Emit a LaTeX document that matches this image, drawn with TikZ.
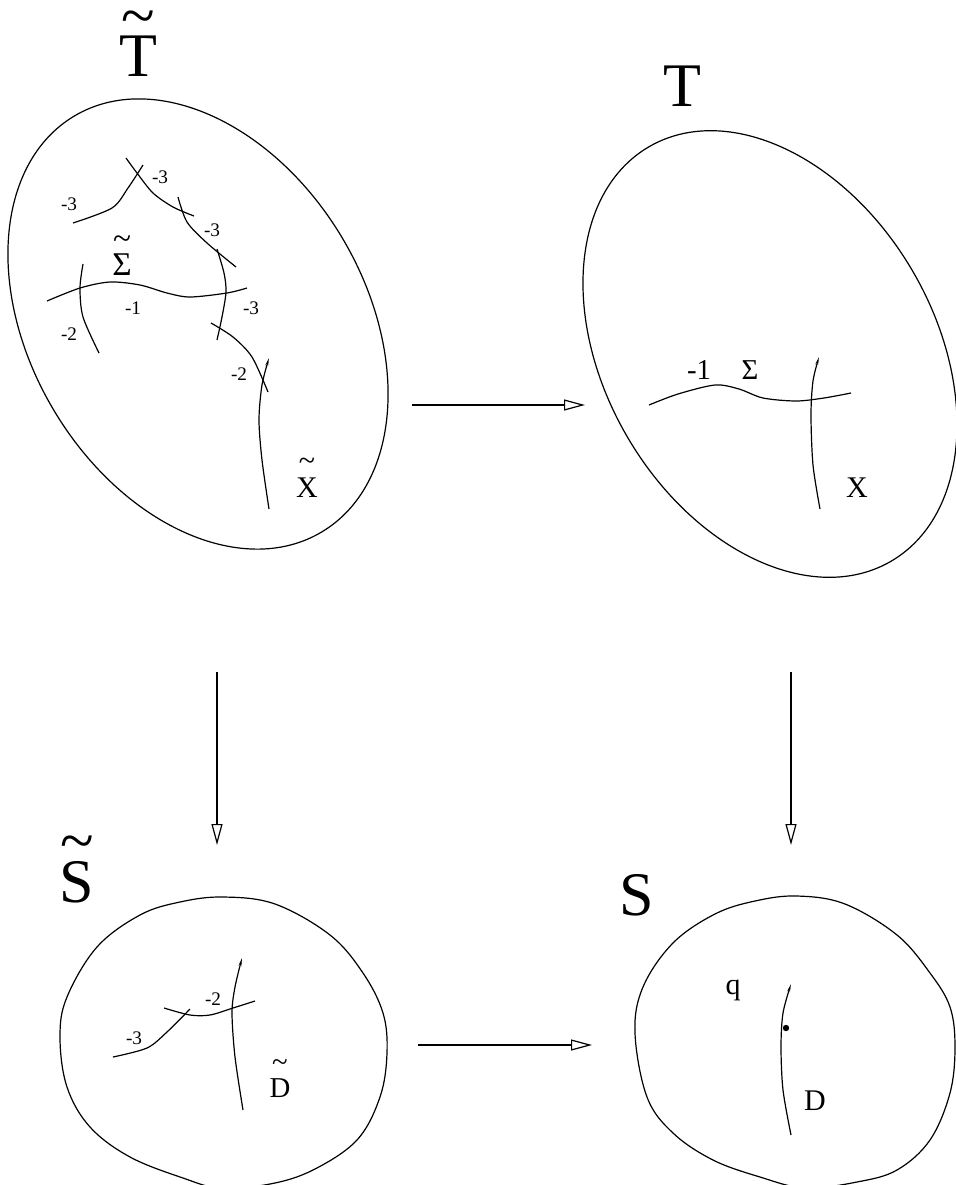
\documentclass[tikz,border=0pt]{standalone}
\usepackage{fontspec}
\setmainfont{Liberation Serif}
\usetikzlibrary{arrows.meta}

\newcommand{\tld}[2]{\ooalign{#2\cr\hfil\smash{\raisebox{#1}{\char"7E}}\hfil\cr}}

\tikzset{
  blob/.style={line width=0.6pt},
  curve/.style={line width=0.6pt},
  hook/.style={line width=0.6pt,-{Stealth[length=4pt,width=1.4pt]}},
  map/.style={line width=0.6pt,-{Triangle[open,length=10.5pt,width=5.5pt]}},
  num/.style={inner sep=0pt,font=\fontsize{9.6}{11}\selectfont},
  lbl/.style={inner sep=0pt,anchor=base,font=\fontsize{15}{18}\selectfont},
  big/.style={inner sep=0pt,anchor=base,font=\fontsize{31}{36}\selectfont}
}

\begin{document}
\begin{tikzpicture}[x=0.5pt,y=-0.5pt]
\useasboundingbox (0,0) rectangle (955,1185);

\draw[blob,rotate around={-59.3:(198,324)}] (198,324) ellipse [x radius=121pt,y radius=84pt];
\draw[curve] plot[smooth] coordinates {(73,223) (112,208) (128,188) (143,165)};
\draw[curve] plot[smooth] coordinates {(126,158) (137,173) (153,193) (173,207) (194,216)};
\draw[curve] plot[smooth] coordinates {(178,197) (187,222) (207,243) (236,267)};
\draw[curve] plot[smooth] coordinates {(217,249) (224,273) (226,292) (222,317) (217,340)};
\draw[curve] plot[smooth] coordinates {(47,301) (80,288) (110,282) (140,285) (167,293) (190,297) (227,293) (247,288)};
\draw[curve] plot[smooth] coordinates {(83,264) (80,288) (83,317) (99,353)};
\draw[curve] plot[smooth] coordinates {(211,323) (233,337) (252,357) (268,392)};
\draw[hook] plot[smooth] coordinates {(269,509) (262,460) (259,420) (262,385) (269,358)};
\node[big] (Tt) at (138,76) {\tld{0.63em}{T}};
\node[num] (m1) at (69,204) {-3};
\node[num] (m2) at (160,177) {-3};
\node[num] (m3) at (212,230) {-3};
\node[num] (m4) at (133,308) {-1};
\node[num] (m5) at (251,308) {-3};
\node[num] (m6) at (69,334) {-2};
\node[num] (m7) at (239,374) {-2};
\node[lbl,font=\fontsize{16.6}{20}\selectfont] (Sgt) at (122,275) {\tld{0.78em}{Σ}};
\node[lbl] (Xt) at (307,497) {\tld{0.9em}{X}};

\draw[blob,rotate around={-59.65:(770,354)}] (770,354) ellipse [x radius=120pt,y radius=82.5pt];
\draw[curve] plot[smooth] coordinates {(649,405) (678,394) (715,385) (739,389) (763,398) (796,401) (824,398) (851,393)};
\draw[hook] plot[smooth] coordinates {(820,509) (813,465) (811,415) (813,381) (819,357)};
\node[big] (T) at (682,106) {T};
\node[lbl,font=\fontsize{14.4}{17}\selectfont] (m8) at (699,379) {-1};
\node[lbl,font=\fontsize{14.4}{17}\selectfont] (Sg) at (750,379) {Σ};
\node[lbl] (X) at (857,497) {X};

\draw[blob] plot[smooth cycle,tension=0.6] coordinates {(223,897) (275,904) (330,935) (363,973) (383,1013) (387,1053) (380,1097) (357,1140) (313,1170) (270,1184) (220,1188) (183,1178) (130,1157) (90,1127) (67,1087) (60,1037) (67,997) (97,947) (140,915) (180,902)};
\draw[hook] plot[smooth] coordinates {(243,1110) (235,1057) (232,1013) (235,987) (242,958)};
\draw[curve] plot[smooth] coordinates {(164,1008) (190,1015) (210,1015) (233,1008) (255,1001)};
\draw[curve] plot[smooth] coordinates {(113,1057) (147,1048) (167,1032) (190,1009)};
\node[big] (St) at (77,902) {\tld{0.65em}{S}};
\node[num] (m9) at (134,1038) {-3};
\node[num] (m10) at (213,999) {-2};
\node[lbl,font=\fontsize{14.4}{17}\selectfont] (Dt) at (280,1097) {\tld{0.9em}{D}};

\draw[blob] plot[smooth cycle,tension=0.6] coordinates {(797,896) (845,904) (897,935) (930,973) (950,1007) (955,1047) (950,1093) (930,1140) (897,1170) (857,1182) (805,1188) (760,1177) (713,1160) (673,1133) (647,1097) (635,1033) (643,987) (673,943) (715,914) (755,901)};
\draw[hook] plot[smooth] coordinates {(791,1135) (783,1090) (781,1047) (783,1013) (791,984)};
\fill (786,1028) circle (1.6pt);
\node[big] (S) at (637,915) {S};
\node[lbl] (q) at (733,994) {q};
\node[lbl] (D) at (815,1110) {D};

\coordinate (h1a) at (412,405);
\coordinate (h1b) at (585,405);
\coordinate (h2a) at (418,1045);
\coordinate (h2b) at (592,1045);
\coordinate (v1a) at (217,672);
\coordinate (v1b) at (217,845);
\coordinate (v2a) at (791,672);
\coordinate (v2b) at (791,845);
\draw[map] (h1a) -- (h1b);
\draw[map] (h2a) -- (h2b);
\draw[map] (v1a) -- (v1b);
\draw[map] (v2a) -- (v2b);
\end{tikzpicture}
\end{document}
